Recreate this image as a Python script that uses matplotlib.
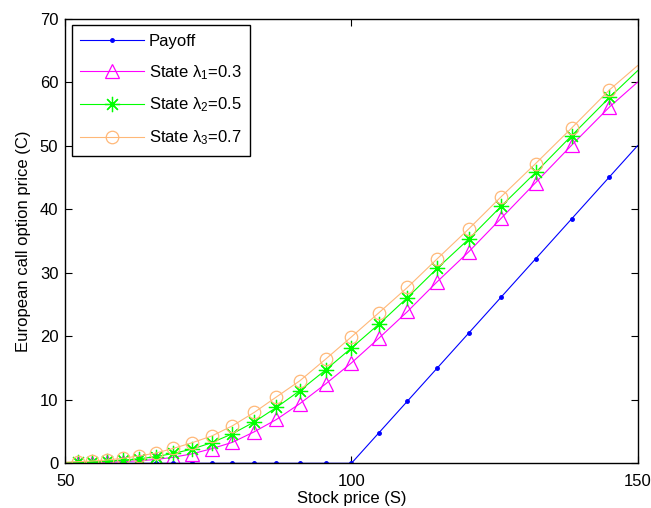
import matplotlib
matplotlib.use("Agg")
import matplotlib.pyplot as plt

plt.rcParams['font.family'] = ['Liberation Sans', 'DejaVu Sans']
plt.rcParams['mathtext.fontset'] = 'custom'
plt.rcParams['mathtext.rm'] = 'Liberation Sans'
plt.rcParams['mathtext.it'] = 'Liberation Sans'

# Stock prices on the tree grid
stock = [50.0, 52.2, 54.7, 57.3, 60.0, 62.8, 65.8, 68.9, 72.2, 75.6, 79.2, 83.0,
         86.9, 91.0, 95.5, 100.0, 104.8, 109.8, 115.0, 120.5, 126.2, 132.2,
         138.5, 145.1, 150.0]

payoff = [0, 0, 0, 0, 0, 0, 0, 0, 0, 0, 0, 0, 0, 0, 0, 0,
          4.8, 9.8, 15.0, 20.5, 26.2, 32.2, 38.5, 45.1, 50.0]

state_l1 = [0.03, 0.05, 0.08, 0.15, 0.25, 0.4, 0.6, 0.95, 1.5, 2.3, 3.3, 4.95,
            6.9, 9.4, 12.5, 15.8, 19.7, 23.9, 28.6, 33.3, 38.6, 44.2, 50.1,
            56.1, 60.0]
state_l2 = [0.1, 0.15, 0.22, 0.35, 0.5, 0.7, 1.05, 1.55, 2.25, 3.25, 4.65, 6.5,
            8.8, 11.45, 14.7, 18.15, 21.9, 26.1, 30.7, 35.3, 40.5, 45.8, 51.6,
            57.6, 61.8]
state_l3 = [0.18, 0.25, 0.36, 0.52, 0.78, 1.15, 1.6, 2.35, 3.25, 4.3, 5.9, 8.0,
            10.45, 13.0, 16.4, 19.9, 23.7, 27.7, 32.2, 36.9, 42.0, 47.2, 52.8,
            58.8, 62.6]

labels = ['Payoff', 'State λ$_1$=0.3', 'State λ$_2$=0.5', 'State λ$_3$=0.7']

fig = plt.figure(figsize=(6.51, 5.08), dpi=100)
ax = fig.add_axes([0.1003, 0.088, 0.879, 0.8752])

inner = slice(1, -1)  # no markers on the clipped end points
ax.plot(stock, payoff, color='#0000ff', lw=0.8, marker='.', ms=5,
        markevery=inner, label=labels[0])
ax.plot(stock, state_l1, color='#ff00ff', lw=0.8, marker='^', ms=10,
        mfc='none', mew=0.9, markevery=inner, label=labels[1])
ax.plot(stock, state_l2, color='#00ff00', lw=0.8, marker=(8, 2, 0), ms=11,
        mew=0.9, markevery=inner, label=labels[2])
ax.plot(stock, state_l3, color='#ffb878', lw=0.8, marker='o', ms=9,
        mfc='none', mew=0.9, markevery=inner, label=labels[3])

ax.set_xlim(50, 150)
ax.set_ylim(0, 70)
ax.set_xticks([50, 100, 150])
ax.set_yticks(range(0, 71, 10))
ax.tick_params(direction='in', top=True, right=True, length=5, labelsize=12)
ax.tick_params(axis='x', pad=8)
ax.tick_params(axis='y', pad=5)
for s in ax.spines.values():
    s.set_linewidth(1.0)

ax.set_xlabel('Stock price (S)', fontsize=12, labelpad=1)
ax.set_ylabel('European call option price (C)', fontsize=12, labelpad=6)

leg = ax.legend(loc='upper left', fontsize=12, fancybox=False, framealpha=1,
                edgecolor='black', handlelength=3.8, handletextpad=0.3,
                labelspacing=0.85, borderpad=0.5, borderaxespad=0.4)
leg.get_frame().set_linewidth(1.0)

fig.savefig('out.png', dpi=100)
